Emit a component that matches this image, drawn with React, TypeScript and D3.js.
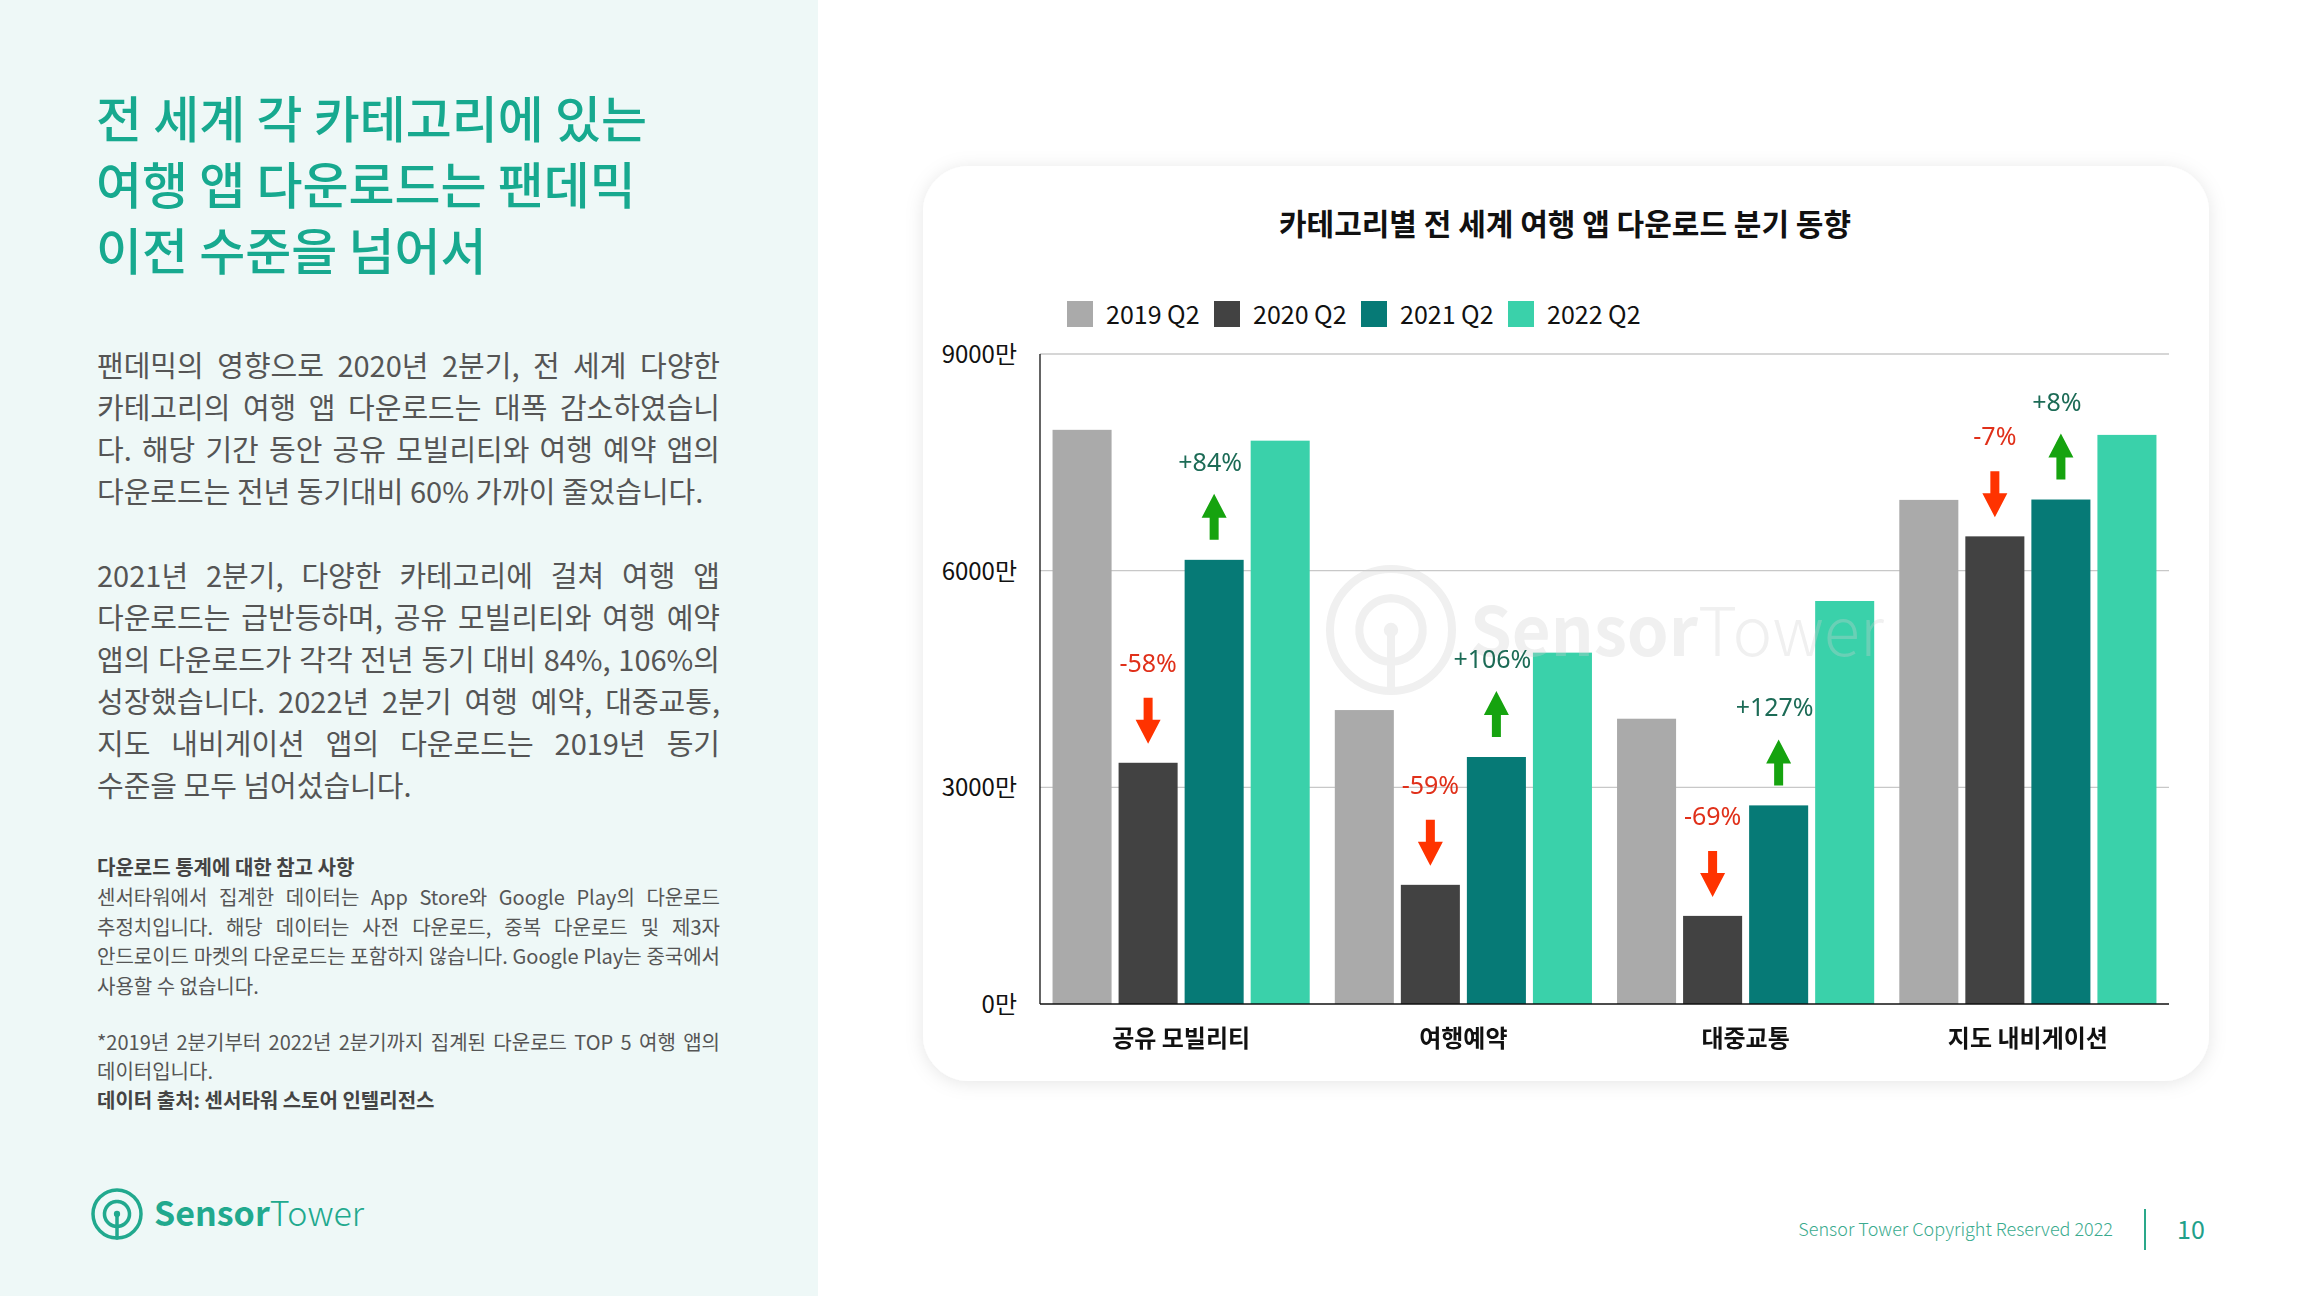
import React from "react";
import * as d3 from "d3";

// 카테고리별 전 세계 여행 앱 다운로드 (단위: 만)
const categories = ["공유 모빌리티", "여행예약", "대중교통", "지도 내비게이션"];
const seriesNames = ["2019 Q2", "2020 Q2", "2021 Q2", "2022 Q2"];
const seriesColors = ["#aaaaaa", "#424242", "#067a76", "#3ad1aa"];
const v2019 = [7950, 4070, 3950, 6980];
const v2020 = [3340, 1650, 1220, 6475];
const v2021 = [6150, 3420, 2750, 6985];
const v2022 = [7800, 4865, 5580, 7880];
const drop2020 = ["-58%", "-59%", "-69%", "-7%"];
const rise2021 = ["+84%", "+106%", "+127%", "+8%"];
const yTicks = [0, 3000, 6000, 9000];

const headingLines = ["전 세계 각 카테고리에 있는", "여행 앱 다운로드는 팬데믹", "이전 수준을 넘어서"];
const para1 = [
  "팬데믹의 영향으로 2020년 2분기, 전 세계 다양한",
  "카테고리의 여행 앱 다운로드는 대폭 감소하였습니",
  "다. 해당 기간 동안 공유 모빌리티와 여행 예약 앱의",
  "다운로드는 전년 동기대비 60% 가까이 줄었습니다.",
];
const para2 = [
  "2021년 2분기, 다양한 카테고리에 걸쳐 여행 앱",
  "다운로드는 급반등하며, 공유 모빌리티와 여행 예약",
  "앱의 다운로드가 각각 전년 동기 대비 84%, 106%의",
  "성장했습니다. 2022년 2분기 여행 예약, 대중교통,",
  "지도 내비게이션 앱의 다운로드는 2019년 동기",
  "수준을 모두 넘어섰습니다.",
];
const notes = [
  "센서타워에서 집계한 데이터는 App Store와 Google Play의 다운로드",
  "추정치입니다. 해당 데이터는 사전 다운로드, 중복 다운로드 및 제3자",
  "안드로이드 마켓의 다운로드는 포함하지 않습니다. Google Play는 중국에서",
  "사용할 수 없습니다.",
];
const footnote = ["*2019년 2분기부터 2022년 2분기까지 집계된 다운로드 TOP 5 여행 앱의", "데이터입니다."];

const KR = "'Noto Sans CJK KR', 'Noto Sans', sans-serif";
const teal = "#17a98f";

const W = 2304,
  H = 1296;
const plot = { left: 1040, right: 2169, top: 354, bottom: 1004 };

let ctx: CanvasRenderingContext2D | null = null;
function measure(text: string, size: number, weight: number) {
  if (!ctx) ctx = document.createElement("canvas").getContext("2d");
  ctx!.font = `${weight} ${size}px ${KR}`;
  return ctx!.measureText(text).width;
}

// justified lines: extra room goes to word gaps only
function Para({ lines, x, y, lh, size, color, width, weight = 400 }) {
  return (
    <g fontFamily={KR} fontSize={size} fill={color} fontWeight={weight}>
      {lines.map((t, i) => {
        let ws = 0;
        if (i < lines.length - 1 && width) {
          const gaps = t.split(" ").length - 1;
          if (gaps > 0) ws = Math.max(0, (width - measure(t, size, weight)) / gaps);
        }
        return (
          <text key={i} x={x} y={y + i * lh} wordSpacing={ws} style={{ whiteSpace: "pre" }}>
            {t}
          </text>
        );
      })}
    </g>
  );
}

function Logo({ cx, cy, r, color, stroke }) {
  const arc = d3.arc()({
    innerRadius: r * 0.52,
    outerRadius: r * 0.52,
    startAngle: Math.PI * 0.78,
    endAngle: Math.PI * 2 + Math.PI * 1.22,
  } as any);
  return (
    <g transform={`translate(${cx},${cy})`} fill="none" stroke={color} strokeWidth={stroke} strokeLinecap="round">
      <circle r={r} />
      <path d={arc} />
      <line x1={0} y1={0} x2={0} y2={r} />
      <circle r={stroke * 0.9} fill={color} stroke="none" />
    </g>
  );
}

export default function App() {
  const x0 = d3.scaleBand().domain(categories).range([plot.left, plot.right]).padding(0);
  const x1 = d3
    .scaleBand()
    .domain(seriesNames)
    .range([0, x0.bandwidth()])
    .paddingInner(0.106)
    .paddingOuter(0.19);
  const y = d3.scaleLinear().domain([0, 9000]).range([plot.bottom, plot.top]);

  const values = [v2019, v2020, v2021, v2022];

  // arrow with its tip at (cx, tipY); dir 1 points down, -1 points up
  const arrow = (cx: number, tipY: number, dir: number) => {
    const p = d3.path();
    const L = 46,
      hl = 24,
      hw = 12.5,
      sw = 4.5;
    p.moveTo(cx - sw, tipY - dir * L);
    p.lineTo(cx + sw, tipY - dir * L);
    p.lineTo(cx + sw, tipY - dir * hl);
    p.lineTo(cx + hw, tipY - dir * hl);
    p.lineTo(cx, tipY);
    p.lineTo(cx - hw, tipY - dir * hl);
    p.lineTo(cx - sw, tipY - dir * hl);
    p.closePath();
    return p.toString();
  };

  return (
    <svg width={W} height={H} style={{ position: "absolute", left: 0, top: 0, background: "#fff" }}>
      <defs>
        <filter id="shadow" x="-10%" y="-10%" width="120%" height="120%">
          <feDropShadow dx="0" dy="2" stdDeviation="9" floodColor="#000" floodOpacity="0.1" />
        </filter>
      </defs>

      {/* left panel */}
      <rect x={0} y={0} width={818} height={H} fill="#eef8f7" />
      <g fontFamily={KR} fontSize={50} fontWeight={500} fill={teal}>
        {headingLines.map((t, i) => (
          <text key={i} x={96} y={138 + i * 66}>
            {t}
          </text>
        ))}
      </g>
      <Para lines={para1} x={97} y={377} lh={42} size={29} color="#555" width={623} />
      <Para lines={para2} x={97} y={587} lh={42} size={29} color="#555" width={623} />
      <text x={97} y={875} fontFamily={KR} fontSize={20} fontWeight={700} fill="#444">
        다운로드 통계에 대한 참고 사항
      </text>
      <Para lines={notes} x={97} y={905} lh={29.5} size={20} color="#555" width={623} />
      <Para lines={footnote} x={97} y={1050} lh={29} size={20} color="#555" width={623} />
      <text x={97} y={1108} fontFamily={KR} fontSize={20} fontWeight={700} fill="#444">
        데이터 출처: 센서타워 스토어 인텔리전스
      </text>

      {/* logo */}
      <Logo cx={117} cy={1214} r={24} color="#21a98e" stroke={3.5} />
      <text x={154} y={1226} fontFamily={KR} fontSize={34} fill="#21a98e">
        <tspan fontWeight={700}>Sensor</tspan>
        <tspan fontWeight={300}>Tower</tspan>
      </text>

      {/* footer */}
      <text x={2113} y={1236} textAnchor="end" fontFamily={KR} fontSize={18} fontWeight={300} fill="#3aab8e">
        Sensor Tower Copyright Reserved 2022
      </text>
      <line x1={2145} x2={2145} y1={1209} y2={1250} stroke="#2aa88a" strokeWidth={2} />
      <text x={2191} y={1239} textAnchor="middle" fontFamily={KR} fontSize={25} fill="#21a08a">
        10
      </text>

      {/* card */}
      <rect x={923} y={166} width={1286} height={915} rx={46} fill="#fff" filter="url(#shadow)" />

      {/* title */}
      <text x={1565} y={235} textAnchor="middle" fontFamily={KR} fontSize={30} fontWeight={700} fill="#111">
        카테고리별 전 세계 여행 앱 다운로드 분기 동향
      </text>

      {/* legend */}
      <g fontFamily={KR} fontSize={25} fill="#111">
        {seriesNames.map((s, i) => (
          <g key={s} transform={`translate(${1067 + i * 147},301)`}>
            <rect width={26} height={26} fill={seriesColors[i]} />
            <text x={39} y={23}>
              {s}
            </text>
          </g>
        ))}
      </g>

      {/* grid + y labels */}
      {yTicks.map((t) => (
        <g key={t}>
          {t > 0 && <line x1={plot.left} x2={plot.right} y1={y(t)} y2={y(t)} stroke="#c8c8c8" strokeWidth={1.3} />}
          <text x={1017} y={y(t) + 9} textAnchor="end" fontFamily={KR} fontSize={24} fill="#111">
            {t}만
          </text>
        </g>
      ))}

      {/* bars */}
      {categories.map((c, ci) => (
        <g key={c} transform={`translate(${x0(c)},0)`}>
          {seriesNames.map((s, si) => (
            <rect
              key={s}
              x={x1(s)}
              y={y(values[si][ci])}
              width={x1.bandwidth()}
              height={y(0) - y(values[si][ci])}
              fill={seriesColors[si]}
            />
          ))}
        </g>
      ))}

      {/* watermark */}
      <g opacity={0.32}>
        <Logo cx={1391} cy={630} r={61} color="#cfcfcf" stroke={8} />
        <text x={1470} y={656} fontFamily={KR} fontSize={67} fill="#cfcfcf">
          <tspan fontWeight={700}>Sensor</tspan>
          <tspan fontWeight={300}>Tower</tspan>
        </text>
      </g>

      {/* axes */}
      <line x1={plot.left} x2={plot.left} y1={plot.top} y2={plot.bottom} stroke="#111" strokeWidth={1.3} />
      <line x1={plot.left} x2={plot.right} y1={plot.bottom} y2={plot.bottom} stroke="#111" strokeWidth={1.3} />
      <g fontFamily={KR} fontSize={24} fontWeight={700} fill="#111" textAnchor="middle">
        {categories.map((c) => (
          <text key={c} x={(x0(c) as number) + x0.bandwidth() / 2} y={1047}>
            {c}
          </text>
        ))}
      </g>

      {/* change annotations */}
      {categories.map((c, ci) => {
        const cx20 = (x0(c) as number) + (x1("2020 Q2") as number) + x1.bandwidth() / 2;
        const cx21 = (x0(c) as number) + (x1("2021 Q2") as number) + x1.bandwidth() / 2;
        const top20 = y(v2020[ci]);
        const top21 = y(v2021[ci]);
        return (
          <g key={c} fontFamily="'Noto Sans', sans-serif" fontSize={25} textAnchor="middle">
            <path d={arrow(cx20, top20 - 19, 1)} fill="#ff3300" />
            <text x={cx20} y={top20 - 91} fill="#e0301a">
              {drop2020[ci]}
            </text>
            <path d={arrow(cx21, top21 - 66, -1)} fill="#16a30f" />
            <text x={cx21 - 4} y={top21 - 89} fill="#1c6b56">
              {rise2021[ci]}
            </text>
          </g>
        );
      })}
    </svg>
  );
}
